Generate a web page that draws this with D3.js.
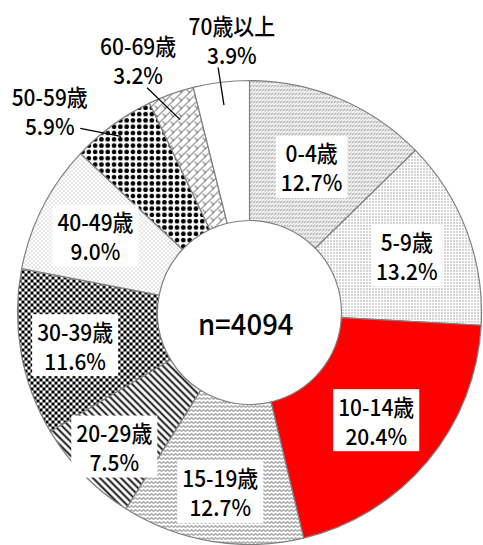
<!DOCTYPE html>
<html>
<head>
<meta charset="utf-8">
<script src="https://cdn.jsdelivr.net/npm/d3@7/dist/d3.min.js"></script>
<style>
  html, body { margin: 0; padding: 0; background: #fff; }
  svg { display: block; }
  text { font-family: "Noto Sans CJK JP", "Noto Sans", sans-serif; fill: #000; font-weight: 500; }
</style>
</head>
<body>
<svg id="chart" width="483" height="545"></svg>
<script>
// ---- data ----
const categories = ["0-4歳", "5-9歳", "10-14歳", "15-19歳", "20-29歳", "30-39歳", "40-49歳", "50-59歳", "60-69歳", "70歳以上"];
const shares = [12.7, 13.2, 20.4, 12.7, 7.5, 11.6, 9.0, 5.9, 3.2, 3.9];
const sampleSize = 4094;

// ---- layout ----
const W = 483, H = 545;
const cx = 249.5, cy = 312.5;
const outerR = 232, innerR = 92;
// radius of inside labels (per slice), null => outside label
const insideLabelR = [160, 168, 165, 180, 189, 177, 173, null, null, null];
// outside labels: polar position (deg from 12 o'clock, radius) of text center and leader start
const outsideLabel = {
  7: { text: [315.3, 284], lead: [317.4, 250], leadEnd: 218 },
  8: { text: [336.2, 276], lead: [335.5, 247], leadEnd: 205 },
  9: { text: [356.3, 273], lead: [352.7, 247], leadEnd: 209 }
};

const svg = d3.select("#chart");
const defs = svg.append("defs");

function pat(id, w, h, build) {
  const p = defs.append("pattern").attr("id", id).attr("patternUnits", "userSpaceOnUse")
    .attr("width", w).attr("height", h);
  p.append("rect").attr("width", w).attr("height", h).attr("fill", "#fff");
  build(p);
}
// 0-4: rows of short slashes
pat("p0", 3, 4, p => p.append("path").attr("d", "M0.3,2.7 L2.7,0.3").attr("stroke", "#555").attr("stroke-width", 1));
// 5-9: fine dots
pat("p1", 3, 3, p => p.append("rect").attr("width", 1).attr("height", 1).attr("fill", "#555"));
// 15-19: zigzag
pat("p3", 4, 4, p => p.append("path").attr("d", "M0,3 L2,1 L4,3").attr("fill", "none").attr("stroke", "#555").attr("stroke-width", 0.9));
// 20-29: wide diagonal stripes
pat("p4", 7, 7, p => p.append("path").attr("d", "M-1,-1 L8,8 M-1,6 L1,8 M6,-1 L8,1").attr("stroke", "#000").attr("stroke-width", 1.8));
// 30-39: checkerboard
pat("p5", 6, 6, p => {
  p.append("rect").attr("x", 0).attr("y", 0).attr("width", 3).attr("height", 3).attr("fill", "#000");
  p.append("rect").attr("x", 3).attr("y", 3).attr("width", 3).attr("height", 3).attr("fill", "#000");
});
// 40-49: sparse dots
pat("p6", 4, 4, p => {
  p.append("rect").attr("x", 0).attr("y", 0).attr("width", 1).attr("height", 1).attr("fill", "#999");
  p.append("rect").attr("x", 2).attr("y", 2).attr("width", 1).attr("height", 1).attr("fill", "#999");
});
// 50-59: large dots
pat("p7", 6.3, 6.3, p => p.append("circle").attr("cx", 3.15).attr("cy", 3.15).attr("r", 2.3).attr("fill", "#000"));
// 60-69: diagonal weave
pat("p8", 8, 8, p => p.append("path")
  .attr("d", "M0,8 L8,0 M-1,1 L1,-1 M7,9 L9,7 M1,1 L4,4")
  .attr("fill", "none").attr("stroke", "#333").attr("stroke-width", 0.9));

const fills = ["url(#p0)", "url(#p1)", "#ff0000", "url(#p3)", "url(#p4)", "url(#p5)", "url(#p6)", "url(#p7)", "url(#p8)", "#ffffff"];

const pie = d3.pie().sort(null).value(d => d);
const arcs = pie(shares);
const arc = d3.arc().innerRadius(innerR).outerRadius(outerR);

const g = svg.append("g").attr("transform", `translate(${cx},${cy})`);

g.selectAll("path.slice").data(arcs).join("path")
  .attr("class", "slice")
  .attr("d", arc)
  .attr("fill", (d, i) => fills[i])
  .attr("stroke", "#808080")
  .attr("stroke-width", 1.2);

// center text
g.append("text").attr("x", -4).attr("y", 10)
  .attr("text-anchor", "middle").attr("dominant-baseline", "central")
  .attr("transform", "scale(0.95,1)")
  .style("font-size", "29px").text(`n=${sampleSize}`);

const fmt = v => v.toFixed(1) + "%";
const rad = deg => deg * Math.PI / 180;
const FS = 22.5, LINE = 29, SX = 0.93;

function labelAt(x, y, i, withBox) {
  const lg = g.append("g").attr("transform", `translate(${x},${y})`);
  const box = withBox ? lg.append("rect").attr("fill", "#fff") : null;
  const tg = lg.append("g").attr("transform", `scale(${SX},1)`);
  const t1 = tg.append("text").attr("text-anchor", "middle").attr("dominant-baseline", "central")
    .attr("y", -LINE / 2).style("font-size", FS + "px").text(categories[i]);
  const t2 = tg.append("text").attr("text-anchor", "middle").attr("dominant-baseline", "central")
    .attr("y", LINE / 2).style("font-size", FS + "px").text(fmt(shares[i]));
  if (box) {
    const w = Math.max(t1.node().getComputedTextLength(), t2.node().getComputedTextLength()) * SX + 10;
    const h = 62;
    box.attr("x", -w / 2).attr("y", -h / 2).attr("width", w).attr("height", h);
  }
}

arcs.forEach((d, i) => {
  const mid = (d.startAngle + d.endAngle) / 2;
  if (insideLabelR[i] != null) {
    const [x, y] = d3.pointRadial(mid, insideLabelR[i]);
    labelAt(x, y + 2, i, true);
  } else {
    const o = outsideLabel[i];
    const [lx1, ly1] = d3.pointRadial(mid, o.leadEnd);
    const [lx2, ly2] = d3.pointRadial(rad(o.lead[0]), o.lead[1]);
    g.append("line").attr("x1", lx1).attr("y1", ly1).attr("x2", lx2).attr("y2", ly2)
      .attr("stroke", "#000").attr("stroke-width", 1.3);
    const [tx, ty] = d3.pointRadial(rad(o.text[0]), o.text[1]);
    labelAt(tx, ty, i, false);
  }
});
</script>
</body>
</html>
